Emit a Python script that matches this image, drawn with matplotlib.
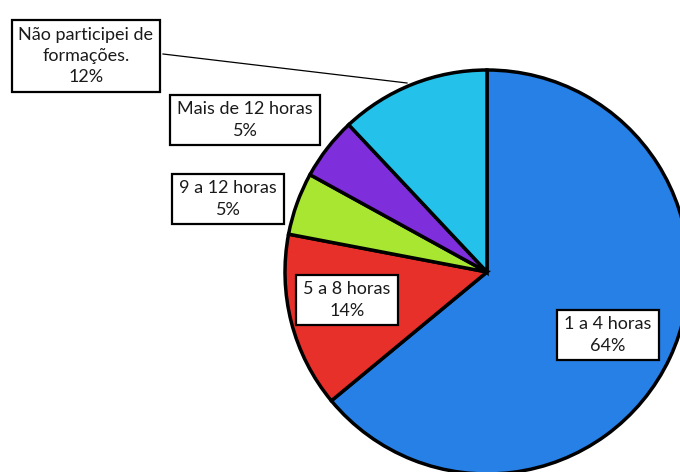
import matplotlib.pyplot as plt

labels = ["1 a 4 horas", "5 a 8 horas", "9 a 12 horas", "Mais de 12 horas",
          "Não participei de\nformações."]
values = [64, 14, 5, 5, 12]
colors = ["#2680E6", "#E8302A", "#A8E632", "#7F2EDB", "#24C2EA"]

W, H = 680, 472
CX, CY, R = 487, 472 - 272, 202

# label box centres in pixel coords (y from top)
label_pos = [(608, 335), (347, 300), (228, 199), (245, 120), (86, 56)]

plt.rcParams["font.family"] = ["Lato", "DejaVu Sans"]

fig = plt.figure(figsize=(6.8, 4.72), dpi=100)
ax = fig.add_axes([0, 0, 1, 1])

wedges, _ = ax.pie(values, colors=colors, startangle=90, counterclock=False,
                   center=(CX, CY), radius=R, frame=True,
                   wedgeprops=dict(edgecolor="black", linewidth=2.5))
ax.set_xlim(0, W)
ax.set_ylim(0, H)
ax.set_aspect("equal")
ax.axis("off")

box = dict(boxstyle="square,pad=0.38", facecolor="white", edgecolor="black", linewidth=1.6)

for i, (lab, v) in enumerate(zip(labels, values)):
    x, y = label_pos[i]
    ax.text(x, H - y, f"{lab}\n{v}%", ha="center", va="center", fontsize=13,
            linespacing=1.4, color="#1a1a1a", bbox=box, zorder=5)

# leader line for the last label
ax.plot([163, 407], [H - 54, H - 83], color="black", linewidth=0.9, zorder=4)

fig.savefig("out.png", dpi=100, facecolor="white")
